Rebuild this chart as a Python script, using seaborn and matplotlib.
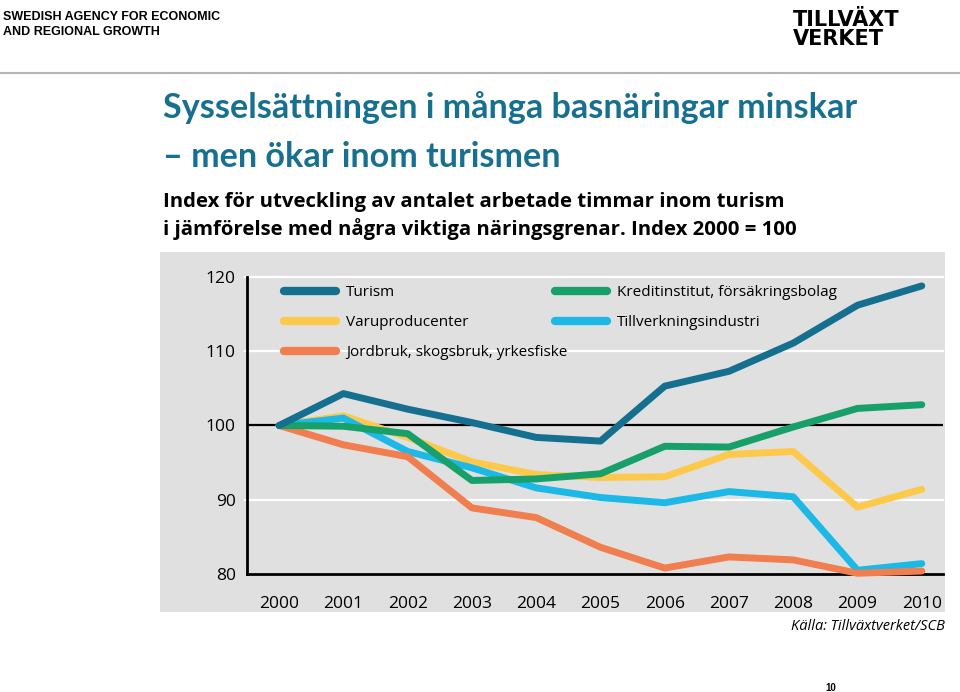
import matplotlib
matplotlib.use("Agg")
import matplotlib.pyplot as plt
from matplotlib.patches import Rectangle
from matplotlib.lines import Line2D
import seaborn as sns
import pandas as pd

# data (index 2000 = 100)
years = [2000, 2001, 2002, 2003, 2004, 2005, 2006, 2007, 2008, 2009, 2010]
turism = [100, 104.3, 102.2, 100.4, 98.4, 97.9, 105.3, 107.3, 111.1, 116.2, 118.8]
kredit = [100, 99.9, 98.9, 92.6, 92.8, 93.5, 97.2, 97.1, 99.8, 102.3, 102.8]
varu = [100, 101.3, 98.4, 95.1, 93.4, 93.0, 93.1, 96.1, 96.5, 89.0, 91.4]
tillverk = [100, 101.0, 96.5, 94.3, 91.6, 90.3, 89.6, 91.1, 90.4, 80.5, 81.4]
jordbruk = [100, 97.4, 95.8, 88.9, 87.6, 83.6, 80.8, 82.3, 81.9, 80.1, 80.4]

series_names = ["Turism", "Varuproducenter", "Jordbruk, skogsbruk, yrkesfiske",
                "Kreditinstitut, försäkringsbolag", "Tillverkningsindustri"]
series_values = [turism, varu, jordbruk, kredit, tillverk]
colors = ["#15708f", "#fdc94b", "#f07e4f", "#18a06b", "#1cb8e6"]
y_ticks = [80, 90, 100, 110, 120]

df = pd.DataFrame({
    "year": years * len(series_names),
    "index": [v for vals in series_values for v in vals],
    "serie": [n for n in series_names for _ in years],
})
palette = dict(zip(series_names, colors))

W, H = 960, 692
fig = plt.figure(figsize=(W / 100, H / 100), dpi=100)


def fx(px):
    return px / W


def fy(py):
    return 1 - py / H


# header
fig.text(fx(3), fy(17), "SWEDISH AGENCY FOR ECONOMIC", family="Liberation Sans",
         weight="bold", fontsize=9, va="center")
fig.text(fx(3), fy(32), "AND REGIONAL GROWTH", family="Liberation Sans",
         weight="bold", fontsize=9, va="center")
fig.text(fx(793), fy(20), "TILLVÄXT", family="DejaVu Sans", weight="bold",
         fontsize=15, va="center")
fig.text(fx(793), fy(39), "VERKET", family="DejaVu Sans", weight="bold",
         fontsize=15, va="center")
fig.add_artist(Line2D([0, 1], [fy(73), fy(73)], transform=fig.transFigure,
                      color="#b5b5b5", lw=1.5))

# titles
title_color = "#17708f"
fig.text(fx(163), fy(118), "Sysselsättningen i många basnäringar minskar",
         family="Lato", weight="bold", fontsize=24.6, color=title_color, va="baseline")
fig.text(fx(163), fy(167), "– men ökar inom turismen",
         family="Lato", weight="bold", fontsize=24.6, color=title_color, va="baseline")
fig.text(fx(163), fy(207), "Index för utveckling av antalet arbetade timmar inom turism",
         family="Open Sans", weight="bold", fontsize=14.7, va="baseline")
fig.text(fx(163), fy(235), "i jämförelse med några viktiga näringsgrenar. Index 2000 = 100",
         family="Open Sans", weight="bold", fontsize=14.7, va="baseline")

# gray panel behind the chart
fig.add_artist(Rectangle((fx(160), fy(612)), fx(785), 360 / H, transform=fig.transFigure,
                         facecolor="#e1e0e1", edgecolor="none", zorder=-1))

ax = fig.add_axes([fx(247), fy(574), fx(943 - 247), (574 - 277) / H])
ax.patch.set_visible(False)

for y in [90, 110, 120]:
    ax.axhline(y, color="white", lw=1.6, zorder=1, xmin=-0.003, clip_on=False)
ax.axhline(100, color="black", lw=1.6, zorder=1)

draw_order = ["Varuproducenter", "Tillverkningsindustri", "Jordbruk, skogsbruk, yrkesfiske",
              "Kreditinstitut, försäkringsbolag", "Turism"]
for name in draw_order:
    sub = df[df["serie"] == name]
    sns.lineplot(data=sub, x="year", y="index", color=palette[name], lw=5,
                 ax=ax, zorder=3, solid_capstyle="round", solid_joinstyle="round",
                 clip_on=False)

ax.set_xlim(1999.5, 2010.33)
ax.set_ylim(80, 120)
ax.set_xticks(years)
ax.set_xticklabels([str(y) for y in years])
ax.set_yticks(y_ticks)
ax.set_xlabel("")
ax.set_ylabel("")
ax.tick_params(axis="both", length=0, labelsize=12.5)
ax.tick_params(axis="y", pad=8)
ax.tick_params(axis="x", pad=16)
for lab in ax.get_xticklabels() + ax.get_yticklabels():
    lab.set_family("Open Sans")
for s in ["top", "right"]:
    ax.spines[s].set_visible(False)
ax.spines["left"].set_linewidth(2)
ax.spines["bottom"].set_linewidth(2)

# legend in two blocks
def handles(names):
    return [Line2D([], [], color=palette[n], lw=6, solid_capstyle="round") for n in names]


left = series_names[:3]
right = series_names[3:]
leg_kw = dict(frameon=False, handlelength=3.4, handletextpad=0.65, labelspacing=0.98,
              prop={"family": "Open Sans", "size": 11}, borderaxespad=0, borderpad=0)
leg1 = ax.legend(handles(left), left, loc="upper left",
                 bbox_to_anchor=(fx(284), fy(285)), bbox_transform=fig.transFigure, **leg_kw)
ax.add_artist(leg1)
ax.legend(handles(right), right, loc="upper left",
          bbox_to_anchor=(fx(555), fy(285)), bbox_transform=fig.transFigure, **leg_kw)

fig.text(fx(945), fy(626), "Källa: Tillväxtverket/SCB", family="Open Sans",
         style="italic", fontsize=10.5, ha="right", va="center")
fig.text(fx(831), fy(688), "10", family="Liberation Sans", weight="bold",
         fontsize=7, ha="center", va="center")

fig.savefig("out.png", dpi=100)
